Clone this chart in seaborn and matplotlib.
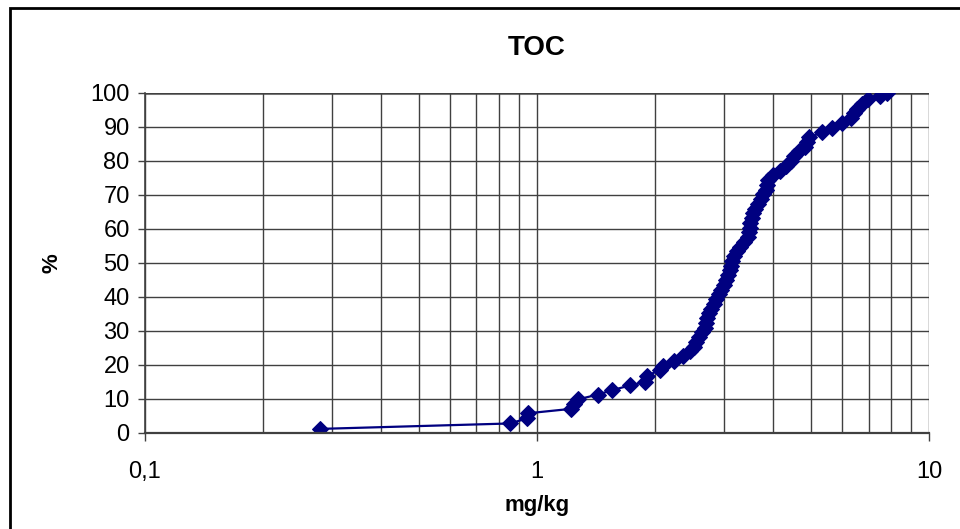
import numpy as np
import pandas as pd
import seaborn as sns
import matplotlib.pyplot as plt
from matplotlib.patches import Rectangle
from matplotlib.ticker import FixedLocator, FixedFormatter, NullFormatter

# TOC concentration (mg/kg) and cumulative percentage
toc = [0.279, 0.853, 0.943, 0.948, 1.221, 1.243, 1.272, 1.43, 1.554, 1.727,
       1.886, 1.908, 2.06, 2.097, 2.236, 2.357, 2.457, 2.515, 2.545, 2.59,
       2.636, 2.683, 2.698, 2.715, 2.747, 2.779, 2.829, 2.861, 2.912, 2.947,
       2.999, 3.034, 3.07, 3.106, 3.124, 3.143, 3.18, 3.237, 3.295, 3.374,
       3.453, 3.474, 3.484, 3.494, 3.536, 3.556, 3.598, 3.663, 3.728, 3.772,
       3.839, 3.861, 3.884, 4.0, 4.168, 4.318, 4.446, 4.525, 4.66, 4.826,
       4.885, 4.94, 5.334, 5.657, 5.998, 6.324, 6.437, 6.552, 6.748, 6.99,
       7.5, 7.816]
pct = [1.2, 2.8, 4.3, 5.8, 7.1, 8.5, 9.9, 11.3, 12.6, 14.0,
       15.0, 16.9, 18.5, 19.8, 21.2, 22.6, 24.0, 25.4, 26.8, 28.2,
       29.6, 31.0, 32.4, 33.8, 35.2, 36.6, 38.0, 39.4, 40.8, 42.2,
       43.6, 45.0, 46.4, 47.8, 49.2, 50.6, 52.0, 53.4, 54.8, 56.2,
       57.6, 59.0, 60.4, 61.8, 63.2, 64.6, 66.0, 67.4, 68.8, 70.2,
       71.6, 73.0, 74.4, 75.8, 77.2, 78.6, 80.0, 81.4, 82.8, 84.2,
       85.6, 87.0, 88.4, 89.8, 91.2, 92.6, 94.0, 95.4, 96.8, 98.2,
       99.0, 100.0]
x_ticks = [0.1, 1, 10]
x_labels = ["0,1", "1", "10"]

df = pd.DataFrame({"mg/kg": toc, "%": pct})

sns.set_style("white")
plt.rcParams['font.family'] = ['Liberation Sans', 'DejaVu Sans']
plt.rcParams['text.color'] = 'black'
plt.rcParams['axes.labelcolor'] = 'black'
plt.rcParams['xtick.color'] = 'black'
plt.rcParams['ytick.color'] = 'black'

fig = plt.figure(figsize=(9.6, 5.29), dpi=100)
ax = fig.add_axes([0.151, 0.1815, 0.817, 0.6427])

navy = "#000080"
sns.lineplot(data=df, x="mg/kg", y="%", sort=False, color=navy, linewidth=1.6,
             marker="D", markersize=8, markeredgecolor=navy, markerfacecolor=navy,
             ax=ax)

ax.set_xscale("log")
ax.set_xlim(0.1, 10)
ax.set_ylim(0, 100)
ax.set_yticks(np.arange(0, 101, 10))

ax.xaxis.set_major_locator(FixedLocator(x_ticks))
ax.xaxis.set_major_formatter(FixedFormatter(x_labels))
minor = [m * d for d in (0.1, 1) for m in range(2, 10)]
ax.xaxis.set_minor_locator(FixedLocator(minor))
ax.xaxis.set_minor_formatter(NullFormatter())

ax.grid(True, which="major", color="#404040", linewidth=1.0)
ax.grid(True, which="minor", axis="x", color="#404040", linewidth=1.0)
ax.set_axisbelow(True)

for s in ["top", "right"]:
    ax.spines[s].set_visible(False)
ax.spines["left"].set_color("#404040")
ax.spines["bottom"].set_color("#404040")
ax.spines["left"].set_linewidth(1.2)
ax.spines["bottom"].set_linewidth(1.6)
ax.axhline(100, color="#808080", linewidth=2.2, zorder=0.5)

ax.tick_params(axis="y", which="major", direction="out", length=5, width=1,
               color="#404040", labelcolor="black", labelsize=17, pad=6, left=True)
ax.tick_params(axis="x", which="major", direction="out", length=6, width=1,
               color="#404040", labelcolor="black", labelsize=17, pad=14, bottom=True)
ax.tick_params(axis="x", which="minor", length=0)

ax.set_title("TOC", fontsize=20, fontweight="bold", pad=27, color="black")
ax.set_xlabel("mg/kg", fontsize=16, fontweight="bold", labelpad=9, color="black")
ax.set_ylabel("%", fontsize=16, fontweight="bold", labelpad=20, color="black")

fig.patches.append(Rectangle((0.0104, -0.05), 1.05, 1.035, transform=fig.transFigure,
                             fill=False, edgecolor="black", linewidth=2))

plt.savefig("out.png", dpi=100)
